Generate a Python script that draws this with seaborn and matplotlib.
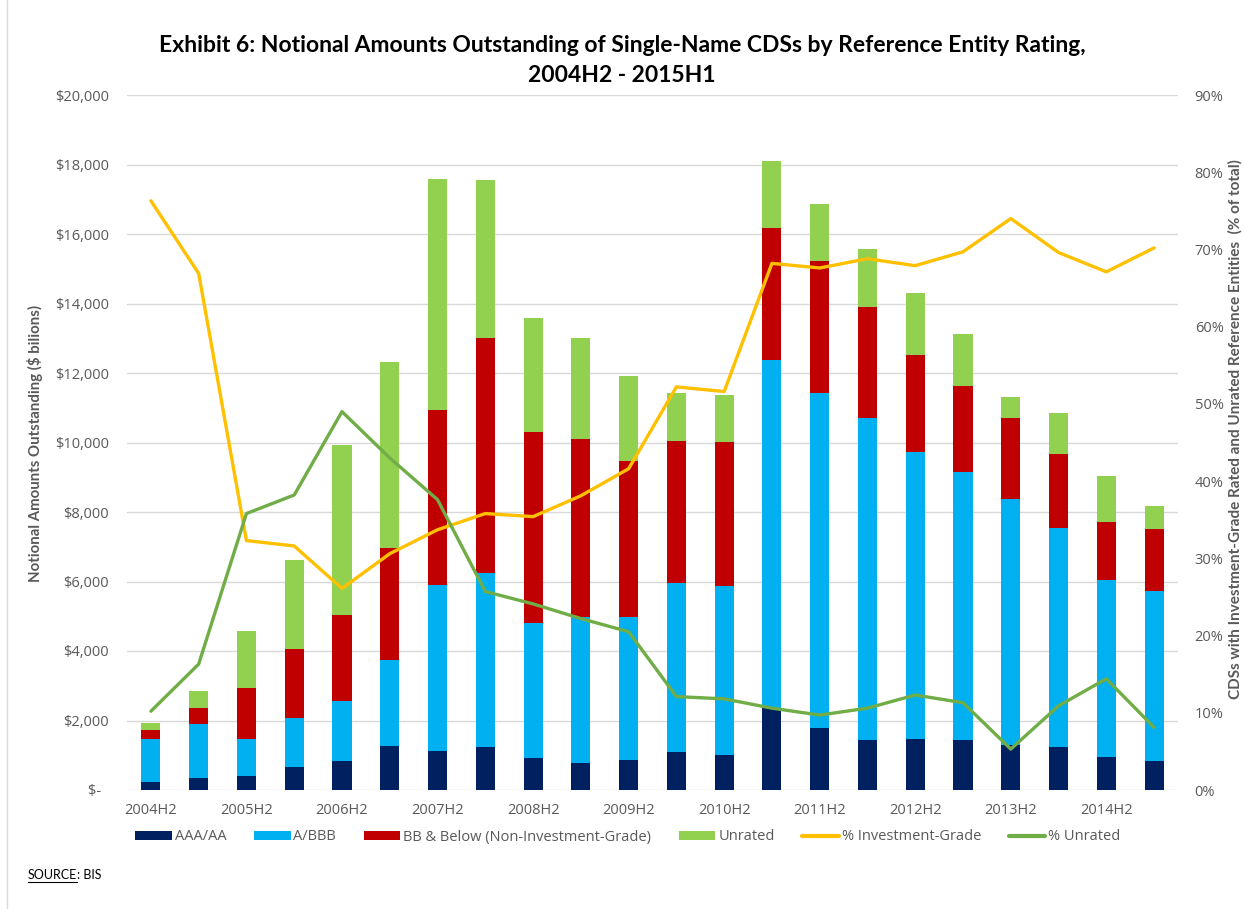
import numpy as np
import pandas as pd
import matplotlib
matplotlib.use("Agg")
import matplotlib.pyplot as plt
import seaborn as sns
from matplotlib.lines import Line2D
from matplotlib.patches import Patch
from matplotlib.ticker import FuncFormatter, MultipleLocator

# ---------------- data ----------------
periods = ["2004H2", "2005H1", "2005H2", "2006H1", "2006H2", "2007H1", "2007H2",
           "2008H1", "2008H2", "2009H1", "2009H2", "2010H1", "2010H2", "2011H1",
           "2011H2", "2012H1", "2012H2", "2013H1", "2013H2", "2014H1", "2014H2",
           "2015H1"]
aaa_aa = [230, 355, 410, 655, 845, 1280, 1130, 1225, 925, 790, 870, 1090,
          1020, 2350, 1770, 1440, 1455, 1430, 1290, 1225, 940, 845]
a_bbb = [1240, 1550, 1060, 1425, 1725, 2460, 4760, 5030, 3875, 4175, 4095, 4865,
         4840, 10020, 9650, 9260, 8265, 7710, 7070, 6310, 5110, 4895]
bb_below = [245, 460, 1455, 1985, 2475, 3235, 5045, 6760, 5490, 5125, 4500, 4080,
            4145, 3805, 3810, 3210, 2800, 2500, 2350, 2135, 1660, 1765]
unrated = [205, 475, 1660, 2555, 4895, 5330, 6635, 4525, 3305, 2910, 2460, 1400,
           1375, 1930, 1630, 1660, 1780, 1495, 600, 1170, 1320, 680]
pct_ig = [76.3, 66.9, 32.3, 31.6, 26.1, 30.6, 33.7, 35.8, 35.4, 38.1, 41.6, 52.2,
          51.6, 68.2, 67.6, 68.8, 67.9, 69.7, 74.0, 69.6, 67.1, 70.2]
pct_unrated = [10.2, 16.3, 35.8, 38.2, 49.0, 43.0, 37.6, 25.7, 24.1, 22.2, 20.5,
               12.1, 11.8, 10.6, 9.7, 10.6, 12.3, 11.3, 5.3, 10.9, 14.4, 8.1]
tick_labels = periods[::2]

series_names = ["AAA/AA", "A/BBB", "BB & Below (Non-Investment-Grade)", "Unrated"]
bar_colors = ["#002060", "#00B0F0", "#C00000", "#92D050"]
line_names = ["% Investment-Grade", "% Unrated"]
line_colors = ["#FFC000", "#70AD47"]

# ---------------- styling ----------------
sns.set_style("white")
plt.rcParams['font.family'] = ['Lato', 'DejaVu Sans']
tick_font = ['Open Sans', 'DejaVu Sans']
gray = "#595959"

fig = plt.figure(figsize=(12.44, 9.09), dpi=100)
ax = fig.add_axes([127 / 1244, 1 - 790 / 909, (1178 - 127) / 1244, (790 - 95) / 909])

df = pd.DataFrame({"period": periods,
                   series_names[0]: aaa_aa, series_names[1]: a_bbb,
                   series_names[2]: bb_below, series_names[3]: unrated})
cum = df[series_names].cumsum(axis=1)
cum["period"] = df["period"]

# stacked bars: draw cumulative tops from the back to the front
for name, color in reversed(list(zip(series_names, bar_colors))):
    sns.barplot(data=cum, x="period", y=name, order=periods, color=color,
                saturation=1, width=0.4, linewidth=0, errorbar=None, ax=ax)

ax.set_ylim(0, 20000)
ax.yaxis.set_major_locator(MultipleLocator(2000))
ax.yaxis.set_major_formatter(FuncFormatter(lambda v, p: "$-  " if v == 0 else f"${v:,.0f}"))
ax.set_xticks(range(0, len(periods), 2))
ax.set_xticklabels(tick_labels)
ax.set_xlabel("")
ax.set_ylabel("")
ax.yaxis.grid(True, color="#D9D9D9", linewidth=1)
ax.set_axisbelow(True)
for s in ax.spines.values():
    s.set_visible(False)
ax.tick_params(axis="both", length=0, colors=gray, labelsize=10.5)
ax.tick_params(axis="y", pad=13)
ax.tick_params(axis="x", pad=9)
for lbl in ax.get_xticklabels() + ax.get_yticklabels():
    lbl.set_family(tick_font)

ax2 = ax.twinx()
xpos = np.arange(len(periods))
sns.lineplot(x=xpos, y=pct_ig, color=line_colors[0], linewidth=2.4, ax=ax2)
sns.lineplot(x=xpos, y=pct_unrated, color=line_colors[1], linewidth=2.4, ax=ax2)
ax2.set_ylim(0, 90)
ax2.yaxis.set_major_locator(MultipleLocator(10))
ax2.yaxis.set_major_formatter(FuncFormatter(lambda v, p: f"{v:.0f}%"))
for s in ax2.spines.values():
    s.set_visible(False)
ax2.tick_params(axis="y", length=0, colors=gray, labelsize=10.5, pad=12)
for lbl in ax2.get_yticklabels():
    lbl.set_family(tick_font)
ax2.set_ylabel("")
ax.set_xlim(-0.5, len(periods) - 0.5)

# titles and axis labels
fig.text(0.5, 1 - 46 / 909, "Exhibit 6: Notional Amounts Outstanding of Single-Name CDSs by Reference Entity Rating,",
         ha="center", va="center", fontsize=16.5, fontweight="bold", color="black")
fig.text(0.5, 1 - 75 / 909, "2004H2 - 2015H1",
         ha="center", va="center", fontsize=16.5, fontweight="bold", color="black")
fig.text(35 / 1244, 1 - 443 / 909, "Notional Amounts Outstanding ($ bilions)", rotation=90,
         ha="center", va="center", fontsize=10.8, fontweight="bold", color=gray)
fig.text(1235 / 1244, 1 - 429 / 909,
         "CDSs with Investment-Grade Rated and Unrated Reference Entities  (% of total)",
         rotation=90, ha="center", va="center", fontsize=11, fontweight="bold", color=gray)

# thin frame line at the left edge of the chart area
fig.add_artist(Line2D([7 / 1244, 7 / 1244], [0, 1], color="#D9D9D9", linewidth=1))

# legend
handles = [Patch(facecolor=c, edgecolor="none") for c in bar_colors] + \
          [Line2D([0], [0], color=c, linewidth=3) for c in line_colors]
labels = series_names + line_names
fig.legend(handles, labels, loc="center", bbox_to_anchor=(628 / 1244, 1 - 837 / 909),
           ncol=6, frameon=False, labelcolor=gray,
           prop={"family": tick_font, "size": 10.5},
           handlelength=2.5, handleheight=0.65, handletextpad=0.2, columnspacing=1.9)

# source note with underline
t1 = fig.text(28 / 1244, 1 - 875 / 909, "SOURCE", ha="left", va="center", fontsize=9, color="black")
fig.canvas.draw()
bb = t1.get_window_extent()
fig.text(bb.x1 / fig.bbox.width, 1 - 875 / 909, ": BIS", ha="left", va="center", fontsize=9, color="black")
fig.add_artist(Line2D([bb.x0 / fig.bbox.width, bb.x1 / fig.bbox.width],
                      [(bb.y0 - 1) / fig.bbox.height] * 2, color="black", linewidth=0.8))

fig.savefig("out.png", dpi=100)
